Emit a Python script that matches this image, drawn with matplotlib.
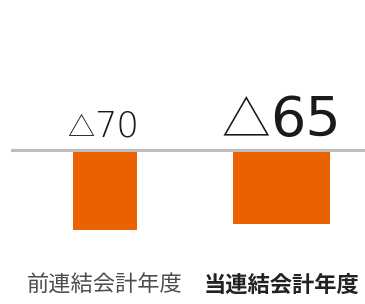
import matplotlib
matplotlib.use("Agg")
import matplotlib.pyplot as plt
from matplotlib.transforms import blended_transform_factory

categories = ["前連結会計年度", "当連結会計年度"]
values = [-70, -65]
value_labels = ["△70", "△65"]

plt.rcParams['font.family'] = ['Noto Sans CJK JP', 'DejaVu Sans']

fig = plt.figure(figsize=(3.65, 3.04), dpi=100)
ax = fig.add_axes([0, 0, 1, 1])
x = list(range(len(categories)))
widths = [0.363, 0.55]
ax.bar(x, values, width=widths, color='#EA6100', zorder=2)
ax.axhline(0, xmin=0.033, xmax=1, color='#BDBDBD', linewidth=2.2, zorder=3)

ax.set_xlim(-0.595, 1.473)
ax.set_ylim(-134.75, 131.25)
ax.axis('off')

tri_sizes = [19.5, 35]
num_sizes = [25.5, 40]
num_weights = ['light', 'medium']
for xi, lab, ts, ns, nw in zip(x, value_labels, tri_sizes, num_sizes, num_weights):
    ax.annotate(lab[0], (xi, 0), xytext=(-8, 10), textcoords='offset points',
                ha='right', va='baseline', fontsize=ts, fontweight='light',
                color='#1a1a1a', family=['Noto Sans CJK JP'])
    ax.annotate(lab[1:], (xi, 0), xytext=(-8, 10), textcoords='offset points',
                ha='left', va='baseline', fontsize=ns, fontweight=nw,
                color='#1a1a1a', family=['DejaVu Sans'])

tr = blended_transform_factory(ax.transData, ax.transAxes)
cat_colors = ['#4d4d4d', '#222222']
cat_weights = ['normal', 'bold']
for xi, c, col, w in zip(x, categories, cat_colors, cat_weights):
    ax.text(xi, 0.0625, c, transform=tr, ha='center', va='center',
            fontsize=16, fontweight=w, color=col)

fig.savefig('out.png', dpi=100)
